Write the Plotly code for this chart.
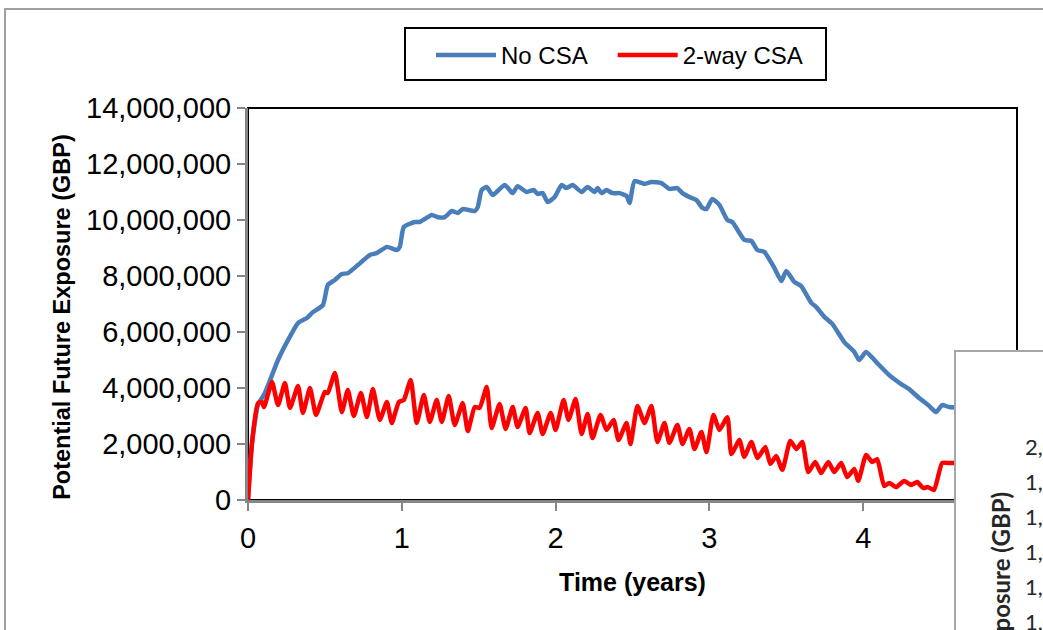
import plotly.graph_objects as go

# ---- data (values in millions of GBP, time in years) ----
no_csa_time = [0, 0.026, 0.065, 0.110, 0.195, 0.260, 0.325, 0.383, 0.422, 0.487,
               0.519, 0.565, 0.610, 0.649, 0.714, 0.792, 0.838, 0.903, 0.968, 0.987,
               1.013, 1.084, 1.117, 1.195, 1.234, 1.279, 1.325, 1.364, 1.396, 1.474,
               1.494, 1.519, 1.552, 1.591, 1.669, 1.721, 1.753, 1.812, 1.857, 1.883,
               1.916, 1.948, 1.994, 2.039, 2.071, 2.110, 2.169, 2.208, 2.253, 2.273,
               2.299, 2.331, 2.370, 2.416, 2.461, 2.481, 2.513, 2.578, 2.623, 2.688,
               2.740, 2.792, 2.825, 2.870, 2.916, 2.955, 2.981, 3.019, 3.065, 3.117,
               3.149, 3.227, 3.273, 3.312, 3.357, 3.422, 3.468, 3.500, 3.552, 3.597,
               3.662, 3.695, 3.747, 3.799, 3.877, 3.942, 3.974, 4.019, 4.084, 4.169,
               4.247, 4.299, 4.364, 4.429, 4.474, 4.513, 4.558, 4.620]
no_csa_pfe_m = [0, 2.04, 3.40, 3.82, 5.00, 5.71, 6.32, 6.50, 6.71, 6.96,
                7.68, 7.86, 8.07, 8.10, 8.39, 8.75, 8.82, 9.04, 8.93, 9.04,
                9.75, 9.93, 9.93, 10.18, 10.10, 10.10, 10.32, 10.25, 10.39, 10.32,
                10.46, 11.07, 11.18, 10.89, 11.25, 10.96, 11.21, 11.00, 11.07, 10.93,
                10.96, 10.64, 10.82, 11.25, 11.14, 11.25, 11.00, 11.18, 11.00, 11.14,
                10.96, 11.07, 10.96, 10.96, 10.86, 10.61, 11.39, 11.29, 11.36, 11.32,
                11.11, 11.14, 10.96, 10.82, 10.71, 10.43, 10.39, 10.75, 10.54, 10.00,
                9.93, 9.29, 9.25, 8.93, 8.86, 8.29, 7.82, 8.18, 7.79, 7.64,
                7.04, 6.89, 6.54, 6.29, 5.64, 5.29, 5.00, 5.29, 4.93, 4.46,
                4.14, 3.96, 3.64, 3.36, 3.14, 3.39, 3.32, 3.30]

csa_time = [0, 0.026, 0.065, 0.091, 0.104, 0.156, 0.195, 0.240, 0.273, 0.325,
            0.357, 0.403, 0.442, 0.500, 0.519, 0.565, 0.610, 0.649, 0.688, 0.734,
            0.773, 0.812, 0.857, 0.903, 0.935, 0.981, 1.013, 1.058, 1.097, 1.143,
            1.182, 1.227, 1.260, 1.305, 1.344, 1.396, 1.429, 1.474, 1.506, 1.552,
            1.584, 1.636, 1.675, 1.721, 1.753, 1.805, 1.831, 1.883, 1.916, 1.968,
            2.000, 2.052, 2.084, 2.130, 2.169, 2.208, 2.240, 2.292, 2.331, 2.377,
            2.409, 2.461, 2.487, 2.532, 2.578, 2.623, 2.662, 2.708, 2.740, 2.792,
            2.825, 2.870, 2.903, 2.948, 2.981, 3.026, 3.065, 3.117, 3.143, 3.195,
            3.227, 3.273, 3.312, 3.364, 3.396, 3.435, 3.474, 3.526, 3.565, 3.604,
            3.643, 3.688, 3.727, 3.773, 3.812, 3.857, 3.896, 3.942, 3.968, 4.019,
            4.058, 4.091, 4.136, 4.169, 4.214, 4.266, 4.312, 4.351, 4.390, 4.422,
            4.461, 4.513, 4.558, 4.620]
csa_pfe_m = [0, 2.04, 3.46, 3.50, 3.32, 4.21, 3.39, 4.18, 3.29, 4.07,
             3.11, 4.00, 3.04, 3.86, 3.82, 4.54, 3.14, 3.93, 3.00, 3.82,
             2.96, 3.96, 2.86, 3.50, 2.75, 3.50, 3.57, 4.29, 2.75, 3.75,
             2.79, 3.57, 2.79, 3.71, 2.68, 3.46, 2.46, 3.32, 3.29, 4.04,
             2.57, 3.43, 2.54, 3.32, 2.61, 3.29, 2.39, 3.11, 2.36, 3.11,
             2.50, 3.57, 2.86, 3.61, 2.36, 3.07, 2.21, 3.04, 2.50, 2.86,
             2.14, 2.75, 2.00, 3.36, 2.75, 3.36, 2.07, 2.75, 2.04, 2.68,
             2.00, 2.54, 1.82, 2.43, 1.71, 3.04, 2.50, 2.96, 1.64, 2.14,
             1.54, 2.07, 1.50, 1.89, 1.29, 1.57, 1.07, 2.11, 1.82, 2.07,
             1.00, 1.36, 0.96, 1.36, 1.00, 1.32, 0.82, 1.11, 0.68, 1.61,
             1.36, 1.46, 0.50, 0.61, 0.46, 0.68, 0.54, 0.64, 0.43, 0.46,
             0.36, 1.32, 1.32, 1.32]

series_names = ["No CSA", "2-way CSA"]
y_tick_values = [0, 2000000, 4000000, 6000000, 8000000, 10000000, 12000000, 14000000]
x_tick_values = [0, 1, 2, 3, 4, 5]
# tick labels of the overlapping second chart (only their start is visible)
overlay_tick_labels = ["2,000,000", "1,800,000", "1,600,000", "1,400,000", "1,200,000", "1,000,000"]

assert len(no_csa_time) == len(no_csa_pfe_m)
assert len(csa_time) == len(csa_pfe_m)

FONT = "Liberation Sans, Arial, sans-serif"
AXIS_GREY = "#868686"
NBSP3 = "&nbsp;&nbsp;&nbsp;"

fig = go.Figure()
fig.add_trace(go.Scatter(
    x=no_csa_time, y=[v * 1e6 for v in no_csa_pfe_m], mode="lines",
    name=series_names[0] + NBSP3,
    line=dict(color="#4A7EBB", width=4.5, shape="spline", smoothing=0.5)))
fig.add_trace(go.Scatter(
    x=csa_time, y=[v * 1e6 for v in csa_pfe_m], mode="lines", name=series_names[1],
    line=dict(color="#FF0000", width=4.5, shape="spline", smoothing=0.5)))

# pixel helpers for the plot-area geometry (l=248..1017, t=108..500)
L, R, T, B = 248, 1017, 108, 500
def px(xp):
    return (xp - L) / (R - L)
def py(yp):
    return (B - yp) / (B - T)

shapes = [
    # outer chart-area border
    dict(type="rect", xref="paper", yref="paper", x0=px(5), x1=px(1100), y0=py(700), y1=py(9),
         line=dict(color="#A0A0A0", width=2), fillcolor="rgba(0,0,0,0)", layer="below"),
    # plot-area border (black)
    dict(type="rect", xref="paper", yref="paper", x0=0, x1=1, y0=0, y1=1,
         line=dict(color="black", width=2), fillcolor="rgba(0,0,0,0)", layer="below"),
    # legend frame
    dict(type="rect", xref="paper", yref="paper", x0=px(405), x1=px(826), y0=py(80), y1=py(28),
         line=dict(color="black", width=2), fillcolor="white", layer="below"),
    # overlapping second chart window
    dict(type="rect", xref="paper", yref="paper", x0=px(955), x1=px(1100), y0=py(700), y1=py(351),
         line=dict(color="#A6A6A6", width=2), fillcolor="white", layer="above"),
]

annotations = []
overlay_label_y = [446, 481, 516, 551, 586, 621]
for lab, yp in zip(overlay_tick_labels, overlay_label_y):
    annotations.append(dict(text=lab, xref="paper", yref="paper", x=px(1023), y=py(yp),
                            xanchor="left", yanchor="middle", showarrow=False,
                            font=dict(family="Lato, Carlito, sans-serif", size=22, color="#262626")))
annotations.append(dict(text="Potential Future Exposure (GBP)", xref="paper", yref="paper",
                        x=px(1000), y=py(490), xanchor="center", yanchor="top", textangle=-90,
                        showarrow=False,
                        font=dict(family="Lato, Carlito, sans-serif", size=24, color="#262626",
                                  weight="bold")))

axis_common = dict(showline=True, linecolor=AXIS_GREY, linewidth=3, ticks="outside",
                   ticklen=8, tickwidth=2, tickcolor=AXIS_GREY, showgrid=False, zeroline=False,
                   tickfont=dict(family=FONT, size=29, color="black"))

fig.update_layout(
    width=1043, height=630,
    margin=dict(l=L, r=1043 - R, t=T, b=630 - B),
    paper_bgcolor="white", plot_bgcolor="white",
    xaxis=dict(range=[0, 5], tickvals=x_tick_values, ticklabelstandoff=2, **axis_common,
               title=dict(text="<b>Time (years)</b>", font=dict(family=FONT, size=25, color="black"),
                          standoff=21)),
    yaxis=dict(range=[0, 14000000], tickvals=y_tick_values, tickformat=",d", **axis_common,
               title=dict(text="<b>Potential Future Exposure (GBP)</b>&nbsp;&nbsp;&nbsp;&nbsp;",
                          font=dict(family=FONT, size=23.5, color="black"), standoff=9)),
    legend=dict(orientation="h", xref="container", yref="container",
                x=431 / 1043, y=1 - 33 / 630, xanchor="left", yanchor="top",
                borderwidth=0, bgcolor="rgba(0,0,0,0)",
                font=dict(family=FONT, size=24, color="black"), itemwidth=60),
    shapes=shapes, annotations=annotations,
)

fig.write_html("out.html")
